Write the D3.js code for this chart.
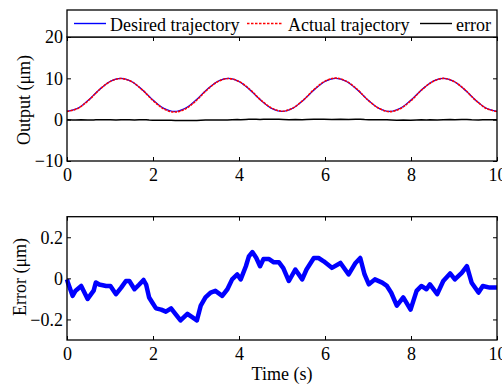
<!DOCTYPE html>
<html>
<head>
<meta charset="utf-8">
<script src="https://cdn.jsdelivr.net/npm/d3@7"></script>
<style>
  body { margin: 0; background: #fff; }
  svg text { font-family: "Liberation Serif", "Times New Roman", serif; font-size: 18px; fill: #000; }
</style>
</head>
<body>
<svg id="chart" width="502" height="385"></svg>
<script>
var svg = d3.select('svg#chart');

// time samples of the trajectories (s)
var trajT = [0, 0.25, 0.5, 0.75, 1, 1.25, 1.5, 1.75, 2, 2.25, 2.5, 2.75, 3, 3.25, 3.5, 3.75, 4,
  4.25, 4.5, 4.75, 5, 5.25, 5.5, 5.75, 6, 6.25, 6.5, 6.75, 7, 7.25, 7.5, 7.75, 8, 8.25, 8.5,
  8.75, 9, 9.25, 9.5, 9.75, 10];
// desired trajectory (um)
var desired = [2, 2.76, 4.76, 7.24, 9.24, 10, 9.24, 7.24, 4.76, 2.76, 2, 2.76, 4.76, 7.24, 9.24,
  10, 9.24, 7.24, 4.76, 2.76, 2, 2.76, 4.76, 7.24, 9.24, 10, 9.24, 7.24, 4.76, 2.76, 2, 2.76,
  4.76, 7.24, 9.24, 10, 9.24, 7.24, 4.76, 2.76, 2];
// actual trajectory (um)
var actual = [1.99, 2.71, 4.66, 7.21, 9.20, 9.95, 9.22, 7.23, 4.64, 2.61, 1.84, 2.58, 4.56, 7.16,
  9.17, 9.95, 9.24, 7.35, 4.82, 2.85, 2.05, 2.78, 4.77, 7.34, 9.32, 10.06, 9.28, 7.32, 4.74, 2.75,
  1.94, 2.65, 4.61, 7.20, 9.19, 9.99, 9.24, 7.28, 4.71, 2.72, 1.96];

// tracking error (um)
var errT = [0, 0.02, 0.13, 0.2, 0.33, 0.48, 0.56, 0.62, 0.67, 0.75, 0.91, 1.01, 1.14, 1.26, 1.37,
  1.45, 1.57, 1.68, 1.78, 1.84, 1.91, 1.99, 2.07, 2.19, 2.30, 2.42, 2.52, 2.64, 2.80, 2.92, 3.02,
  3.11, 3.22, 3.34, 3.45, 3.61, 3.73, 3.84, 3.96, 4.04, 4.16, 4.23, 4.31, 4.40, 4.49, 4.57, 4.70,
  4.81, 4.93, 5.03, 5.16, 5.31, 5.47, 5.57, 5.74, 5.85, 5.97, 6.16, 6.36, 6.55, 6.71, 6.82, 6.92,
  7.02, 7.16, 7.33, 7.44, 7.54, 7.67, 7.82, 7.99, 8.13, 8.24, 8.36, 8.44, 8.61, 8.75, 8.91, 9.02,
  9.18, 9.30, 9.41, 9.57, 9.67, 9.83, 10];
var errV = [-0.005, -0.02, -0.085, -0.06, -0.037, -0.10, -0.077, -0.06, -0.02, -0.03, -0.037,
  -0.037, -0.077, -0.045, -0.013, -0.013, -0.053, -0.03, -0.008, -0.03, -0.093, -0.12, -0.146,
  -0.152, -0.162, -0.146, -0.173, -0.205, -0.173, -0.19, -0.205, -0.133, -0.093, -0.069, -0.061,
  -0.085, -0.053, -0.005, 0.019, -0.005, 0.059, 0.107, 0.128, 0.10, 0.059, 0.094, 0.094, 0.078,
  0.078, 0.05, -0.013, 0.043, -0.005, 0.043, 0.099, 0.099, 0.083, 0.051, 0.075, 0.019, 0.075,
  0.099, 0.019, -0.029, -0.005, -0.021, -0.037, -0.07, -0.133, -0.093, -0.152, -0.061, -0.037,
  -0.053, -0.029, -0.077, -0.013, 0.024, -0.005, 0.027, 0.059, -0.021, -0.069, -0.037, -0.045,
  -0.045];

var xTicks = [0, 2, 4, 6, 8, 10];
var outTicks = [-10, 0, 10, 20];
var errTicks = [-0.2, 0, 0.2];
var legendNames = ["Desired trajectory", "Actual trajectory", "error"];

var left = 67, right = 497;
var x = d3.scaleLinear().domain([0, 10]).range([left, right]);
var yOut = d3.scaleLinear().domain([-10, 20]).range([161, 37]);
var yErr = d3.scaleLinear().domain([-0.3, 0.3]).range([340, 216.7]);

function draw_frame(y, ticks, fmt){
    var top = y.range()[1], bottom = y.range()[0];
    var gb = svg.append('g').attr('transform', 'translate(0,' + bottom + ')')
        .call(d3.axisBottom(x).tickValues(xTicks).tickSizeInner(-4).tickSizeOuter(0).tickPadding(7));
    var gt = svg.append('g').attr('transform', 'translate(0,' + top + ')')
        .call(d3.axisTop(x).tickValues(xTicks).tickSizeInner(-4).tickSizeOuter(0).tickFormat(''));
    var gl = svg.append('g').attr('transform', 'translate(' + left + ',0)')
        .call(d3.axisLeft(y).tickValues(ticks).tickSizeInner(-4).tickSizeOuter(0).tickPadding(4).tickFormat(fmt));
    var gr = svg.append('g').attr('transform', 'translate(' + right + ',0)')
        .call(d3.axisRight(y).tickValues(ticks).tickSizeInner(-4).tickSizeOuter(0).tickFormat(''));
    [gb, gt, gl, gr].forEach(function(g){
        g.select('.domain').remove();
        g.attr('font-family', null).attr('font-size', null);
        g.selectAll('line').attr('stroke', '#000');
    });
    svg.append('rect')
        .attr('x', left).attr('y', top)
        .attr('width', right - left).attr('height', bottom - top)
        .attr('fill', 'none').attr('stroke', '#000').attr('stroke-width', 1.3);
}

// top plot
svg.append('clipPath').attr('id', 'clipTop').append('rect')
    .attr('x', left).attr('y', 37).attr('width', right - left).attr('height', 124);

var line = d3.line().curve(d3.curveCatmullRom);
var gTop = svg.append('g').attr('clip-path', 'url(#clipTop)');

gTop.append('path')
    .attr('d', d3.line().x(function(d, i){ return x(errT[i]); }).y(function(d){ return yOut(d); })(errV))
    .attr('fill', 'none').attr('stroke', '#000').attr('stroke-width', 1.5);

gTop.append('path')
    .attr('d', line(desired.map(function(d, i){ return [x(trajT[i]), yOut(d)]; })))
    .attr('fill', 'none').attr('stroke', '#0000ff').attr('stroke-width', 1.3);

gTop.append('path')
    .attr('d', line(actual.map(function(d, i){ return [x(trajT[i]), yOut(d)]; })))
    .attr('fill', 'none').attr('stroke', '#ff0000').attr('stroke-width', 1.6)
    .attr('stroke-dasharray', '2.5 1');

draw_frame(yOut, outTicks, d3.format('d'));

// legend
svg.append('rect').attr('x', left).attr('y', 10).attr('width', right - left).attr('height', 27)
    .attr('fill', '#fff').attr('stroke', '#000').attr('stroke-width', 1.3);
var legendItems = [
    {x1: 74, x2: 106, tx: 110, color: '#0000ff', dash: null},
    {x1: 247, x2: 282, tx: 288, color: '#ff0000', dash: '2.5 1.5'},
    {x1: 420, x2: 452, tx: 456, color: '#000', dash: null}
];
legendItems.forEach(function(d, i){
    svg.append('line').attr('x1', d.x1).attr('x2', d.x2).attr('y1', 23.5).attr('y2', 23.5)
        .attr('stroke', d.color).attr('stroke-width', 1.4).attr('stroke-dasharray', d.dash);
    svg.append('text').attr('x', d.tx).attr('y', 30.5).text(legendNames[i]);
});

svg.append('text').attr('transform', 'translate(30,' + 100 + ') rotate(-90)')
    .attr('text-anchor', 'middle').text('Output (\u03bcm)');

// bottom plot
svg.append('path')
    .attr('d', d3.line().x(function(d, i){ return x(errT[i]); }).y(function(d){ return yErr(d); })(errV))
    .attr('fill', 'none').attr('stroke', '#0000ff').attr('stroke-width', 4.5)
    .attr('stroke-linejoin', 'round');

draw_frame(yErr, errTicks, function(d){ return d === 0 ? '0' : d3.format('.1f')(d); });

svg.append('text').attr('transform', 'translate(26,' + 277 + ') rotate(-90)')
    .attr('text-anchor', 'middle').text('Error (\u03bcm)');
svg.append('text').attr('x', (left + right) / 2).attr('y', 380)
    .attr('text-anchor', 'middle').text('Time (s)');
</script>
</body>
</html>
